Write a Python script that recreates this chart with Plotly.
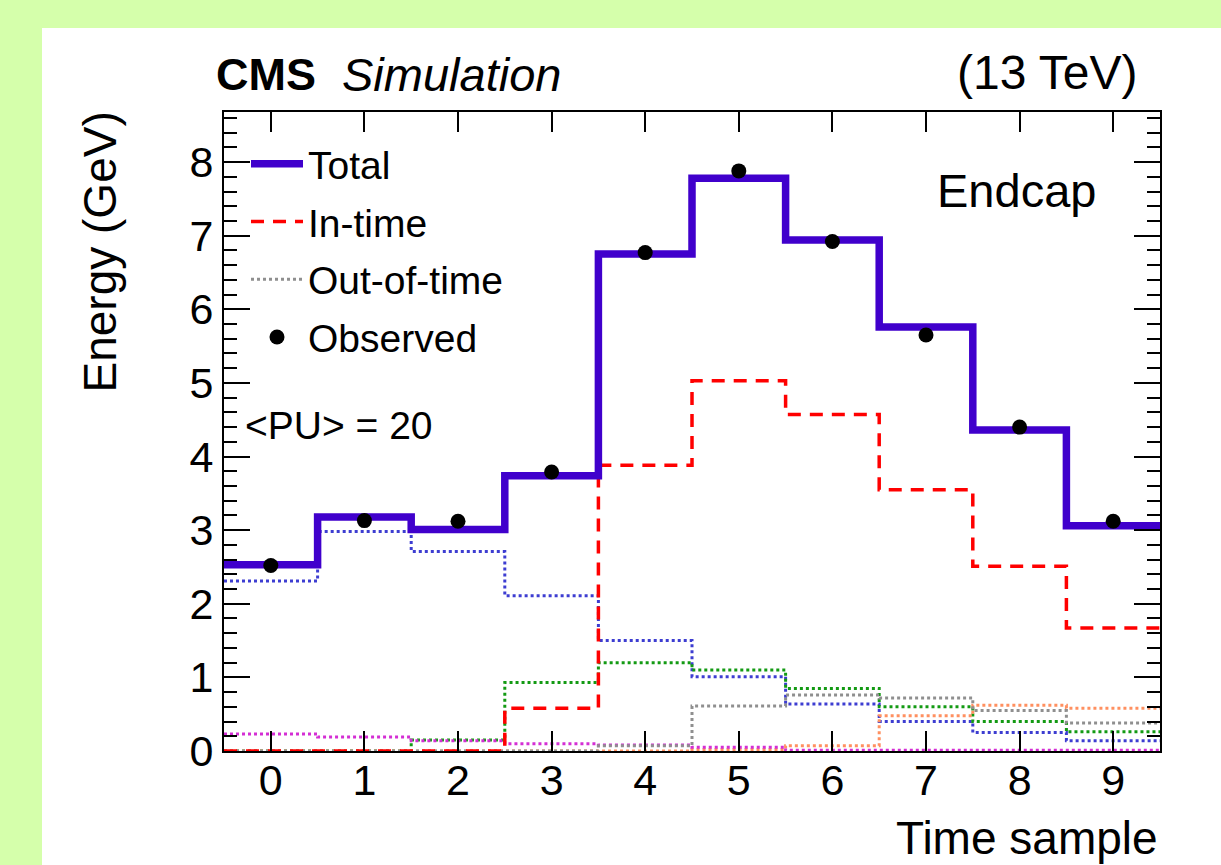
import plotly.graph_objects as go

# ---------------- data ----------------
time_samples = [0, 1, 2, 3, 4, 5, 6, 7, 8, 9]
total = [2.53, 3.18, 3.01, 3.74, 6.75, 7.78, 6.94, 5.76, 4.36, 3.06]
observed = [2.52, 3.13, 3.12, 3.79, 6.77, 7.88, 6.92, 5.65, 4.40, 3.12]
in_time = [0.0, 0.0, 0.0, 0.58, 3.88, 5.03, 4.57, 3.55, 2.51, 1.67]
oot_blue = [2.31, 2.98, 2.71, 2.11, 1.50, 1.01, 0.64, 0.40, 0.25, 0.14]
oot_green = [0.0, 0.0, 0.15, 0.93, 1.20, 1.10, 0.85, 0.60, 0.40, 0.26]
oot_gray = [0.0, 0.0, 0.0, 0.0, 0.07, 0.61, 0.76, 0.72, 0.55, 0.38]
oot_orange = [0.0, 0.0, 0.0, 0.0, 0.0, 0.02, 0.07, 0.48, 0.62, 0.58]
oot_magenta = [0.23, 0.19, 0.14, 0.10, 0.08, 0.05, 0.01, 0.01, 0.01, 0.01]

FONT = "Liberation Sans, Arial, Helvetica, sans-serif"
GREEN_BG = "#d5ffab"

# figure geometry (pixels)
W, H = 1221, 865
L, R, T, B = 224, 1160, 112, 751


def px(x):
    return (x - L) / (R - L)


def py(y):
    return (B - y) / (B - T)


edges = [t - 0.5 for t in time_samples] + [time_samples[-1] + 0.5]


def step(vals):
    return list(vals) + [vals[-1]]


fig = go.Figure()

oot_series = [
    (oot_blue, "#3d3dd1", False),
    (oot_green, "#139a13", False),
    (oot_orange, "#ff9060", False),
    (oot_magenta, "#d42ed4", False),
    (oot_gray, "#8f8f8f", True),
]
for vals, col, leg in oot_series:
    fig.add_trace(go.Scatter(
        x=edges, y=step(vals), mode="lines", line_shape="hv",
        line=dict(color=col, width=3, dash="dot"),
        name="Out-of-time", showlegend=leg, legendrank=3,
        legendgroup="oot", hoverinfo="skip"))

fig.add_trace(go.Scatter(
    x=edges, y=step(in_time), mode="lines", line_shape="hv",
    line=dict(color="#ff0000", width=3.5, dash="13px,9px"),
    name="In-time", legendrank=2, legendgroup="in"))

fig.add_trace(go.Scatter(
    x=edges, y=step(total), mode="lines", line_shape="hv",
    line=dict(color="#4000cc", width=7.5),
    name="Total", legendrank=1, legendgroup="tot"))

fig.add_trace(go.Scatter(
    x=time_samples, y=observed, mode="markers",
    marker=dict(color="black", size=15),
    name="Observed", legendrank=4, legendgroup="obs"))

axis_common = dict(
    showline=True, linecolor="black", linewidth=2, mirror="ticks",
    ticks="inside", tickcolor="black", tickwidth=2,
    showgrid=False, zeroline=False,
    tickfont=dict(family=FONT, size=43, color="black"),
)

fig.update_xaxes(range=[-0.5, 9.5], tickmode="array", tickvals=time_samples,
                 ticktext=[str(t) for t in time_samples], ticklen=20,
                 ticklabelstandoff=-10, **axis_common)
fig.update_yaxes(range=[0, 8.68], tickmode="linear", tick0=0, dtick=1, ticklen=26,
                 minor=dict(dtick=0.2, ticklen=13, ticks="inside",
                            tickcolor="black", tickwidth=2, showgrid=False),
                 **axis_common)

annotations = [
    dict(text="<b>CMS</b>", x=px(214), y=py(74), xanchor="left", yanchor="middle",
         font=dict(family=FONT, size=45, color="black")),
    dict(text="<i>Simulation</i>", x=px(340), y=py(74), xanchor="left", yanchor="middle",
         font=dict(family=FONT, size=47, color="black")),
    dict(text="(13 TeV)", x=px(1140), y=py(72), xanchor="right", yanchor="middle",
         font=dict(family=FONT, size=48, color="black")),
    dict(text="Endcap", x=px(935), y=py(190), xanchor="left", yanchor="middle",
         font=dict(family=FONT, size=47, color="black")),
    dict(text="&lt;PU&gt; = 20", x=px(243), y=py(425), xanchor="left", yanchor="middle",
         font=dict(family=FONT, size=39, color="black")),
    dict(text="Time sample", x=px(1160), y=py(838), xanchor="right", yanchor="middle",
         font=dict(family=FONT, size=46, color="black")),
    dict(text="Energy (GeV)", x=px(100), y=py(110), xanchor="center", yanchor="top",
         textangle=-90, font=dict(family=FONT, size=46, color="black")),
]
for a in annotations:
    a.update(xref="paper", yref="paper", showarrow=False)

fig.update_layout(
    width=W, height=H,
    margin=dict(l=L, r=W - R, t=T, b=H - B, pad=0),
    paper_bgcolor=GREEN_BG, plot_bgcolor="white",
    annotations=annotations,
    shapes=[dict(type="rect", xref="paper", yref="paper",
                 x0=px(42), x1=px(1221), y0=py(865), y1=py(28),
                 fillcolor="white", line=dict(width=0), layer="below")],
    legend=dict(x=px(246), y=py(132), xanchor="left", yanchor="top",
                bgcolor="rgba(0,0,0,0)", borderwidth=0, itemwidth=52,
                traceorder="grouped", tracegroupgap=4,
                font=dict(family=FONT, size=39, color="black")),
    showlegend=True,
)

fig.write_html(
    "out.html",
    config={"displayModeBar": False},
    post_script="document.body.style.margin='0px';"
                "document.body.style.background='" + GREEN_BG + "';",
)
